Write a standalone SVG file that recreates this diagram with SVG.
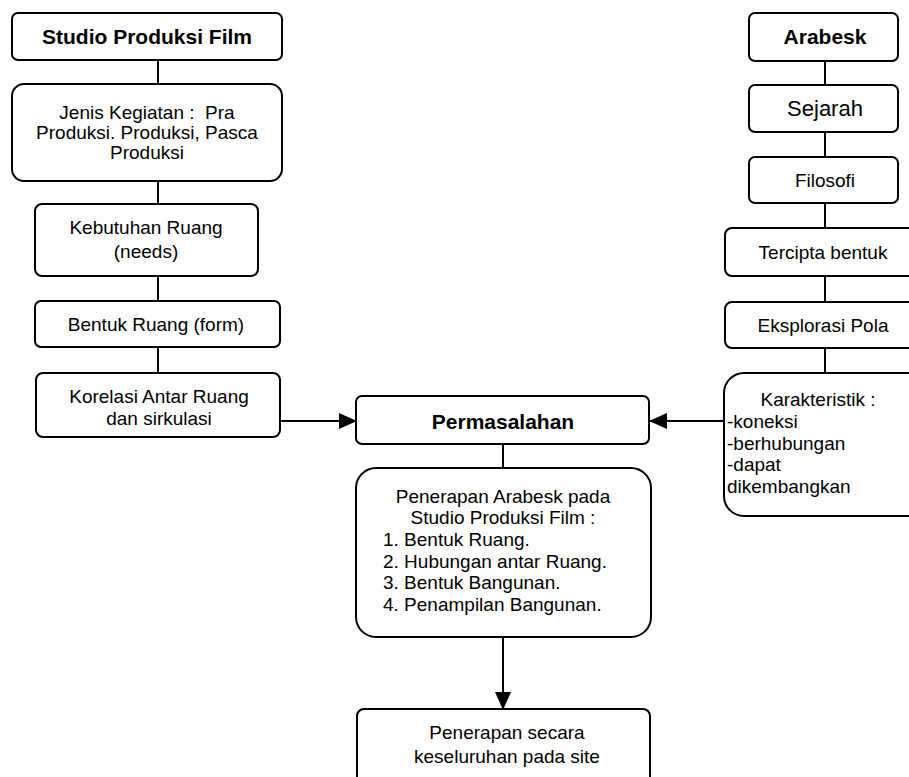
<svg xmlns="http://www.w3.org/2000/svg" width="909" height="777" viewBox="0 0 909 777">
  <defs>
    <marker id="arrow" markerUnits="userSpaceOnUse" markerWidth="18" markerHeight="16" viewBox="0 0 18 16" refX="17" refY="8" orient="auto">
      <path d="M0,0 L18,8 L0,16 Z" fill="#000"/>
    </marker>
    <style>
      .box { fill: #fff; stroke: #000; stroke-width: 2; }
      .lbl { font-family: "Liberation Sans", Arial, sans-serif; font-size: 19px; fill: #000; text-anchor: middle; }
      .lft { text-anchor: start; }
      .ttl { font-weight: bold; font-size: 21px; }
      .big { font-size: 22px; }
      .wire { stroke: #000; stroke-width: 2; fill: none; }
    </style>
  </defs>
  <rect width="909" height="777" fill="#fff"/>

  <!-- connectors -->
  <g id="connectors">
    <line class="wire" x1="158" y1="60" x2="158" y2="84"/>
    <line class="wire" x1="158" y1="181" x2="158" y2="204"/>
    <line class="wire" x1="158" y1="276" x2="158" y2="301"/>
    <line class="wire" x1="158" y1="347" x2="158" y2="373"/>
    <line class="wire" x1="825" y1="61" x2="825" y2="85"/>
    <line class="wire" x1="825" y1="132" x2="825" y2="157"/>
    <line class="wire" x1="825" y1="203" x2="825" y2="228"/>
    <line class="wire" x1="825" y1="276" x2="825" y2="302"/>
    <line class="wire" x1="825" y1="348" x2="825" y2="373"/>
    <line class="wire" x1="280" y1="421" x2="356" y2="421" marker-end="url(#arrow)"/>
    <line class="wire" x1="724" y1="421" x2="650" y2="421" marker-end="url(#arrow)"/>
    <line class="wire" x1="503" y1="444" x2="503" y2="468"/>
    <line class="wire" x1="503" y1="637" x2="503" y2="709" marker-end="url(#arrow)"/>
  </g>

  <!-- left column -->
  <g id="studio">
    <rect class="box" x="12" y="13" width="270" height="47" rx="6"/>
    <text class="lbl ttl" x="147" y="44">Studio Produksi Film</text>
  </g>
  <g id="jenis-kegiatan">
    <rect class="box" x="12" y="84" width="270" height="97" rx="12"/>
    <text class="lbl" x="147" y="119" xml:space="preserve">Jenis Kegiatan :  Pra</text>
    <text class="lbl" x="147" y="139">Produksi. Produksi, Pasca</text>
    <text class="lbl" x="147" y="159">Produksi</text>
  </g>
  <g id="kebutuhan-ruang">
    <rect class="box" x="35" y="204" width="223" height="72" rx="7"/>
    <text class="lbl" x="146" y="234">Kebutuhan Ruang</text>
    <text class="lbl" x="146" y="258">(needs)</text>
  </g>
  <g id="bentuk-ruang">
    <rect class="box" x="35" y="301" width="245" height="46" rx="6"/>
    <text class="lbl" x="156" y="331">Bentuk Ruang (form)</text>
  </g>
  <g id="korelasi">
    <rect class="box" x="36" y="373" width="244" height="64" rx="7"/>
    <text class="lbl" x="159" y="403">Korelasi Antar Ruang</text>
    <text class="lbl" x="159" y="425">dan sirkulasi</text>
  </g>

  <!-- right column -->
  <g id="arabesk">
    <rect class="box" x="749" y="13" width="149" height="48" rx="6"/>
    <text class="lbl ttl" x="825" y="44">Arabesk</text>
  </g>
  <g id="sejarah">
    <rect class="box" x="749" y="85" width="149" height="47" rx="6"/>
    <text class="lbl big" x="825" y="116">Sejarah</text>
  </g>
  <g id="filosofi">
    <rect class="box" x="749" y="157" width="149" height="46" rx="6"/>
    <text class="lbl" x="825" y="187">Filosofi</text>
  </g>
  <g id="tercipta-bentuk">
    <rect class="box" x="725" y="228" width="200" height="48" rx="7"/>
    <text class="lbl" x="823" y="259">Tercipta bentuk</text>
  </g>
  <g id="eksplorasi-pola">
    <rect class="box" x="725" y="302" width="200" height="46" rx="7"/>
    <text class="lbl" x="823" y="332">Eksplorasi Pola</text>
  </g>
  <g id="karakteristik">
    <rect class="box" x="724" y="373" width="210" height="143" rx="20"/>
    <text class="lbl" x="818" y="406">Karakteristik :</text>
    <text class="lbl lft" x="727" y="428">-koneksi</text>
    <text class="lbl lft" x="727" y="450">-berhubungan</text>
    <text class="lbl lft" x="727" y="471">-dapat</text>
    <text class="lbl lft" x="727" y="493">dikembangkan</text>
  </g>

  <!-- centre column -->
  <g id="permasalahan">
    <rect class="box" x="356" y="396" width="293" height="48" rx="6"/>
    <text class="lbl ttl" x="503" y="429">Permasalahan</text>
  </g>
  <g id="penerapan-arabesk">
    <rect class="box" x="356" y="468" width="295" height="169" rx="20"/>
    <text class="lbl" x="503" y="503">Penerapan Arabesk pada</text>
    <text class="lbl" x="503" y="524">Studio Produksi Film :</text>
    <text class="lbl lft" x="383" y="546">1. Bentuk Ruang.</text>
    <text class="lbl lft" x="383" y="568">2. Hubungan antar Ruang.</text>
    <text class="lbl lft" x="383" y="589">3. Bentuk Bangunan.</text>
    <text class="lbl lft" x="383" y="611">4. Penampilan Bangunan.</text>
  </g>
  <g id="penerapan-site">
    <rect class="box" x="357" y="709" width="293" height="80" rx="7"/>
    <text class="lbl" x="507" y="739">Penerapan secara</text>
    <text class="lbl" x="507" y="763">keseluruhan pada site</text>
  </g>
</svg>
